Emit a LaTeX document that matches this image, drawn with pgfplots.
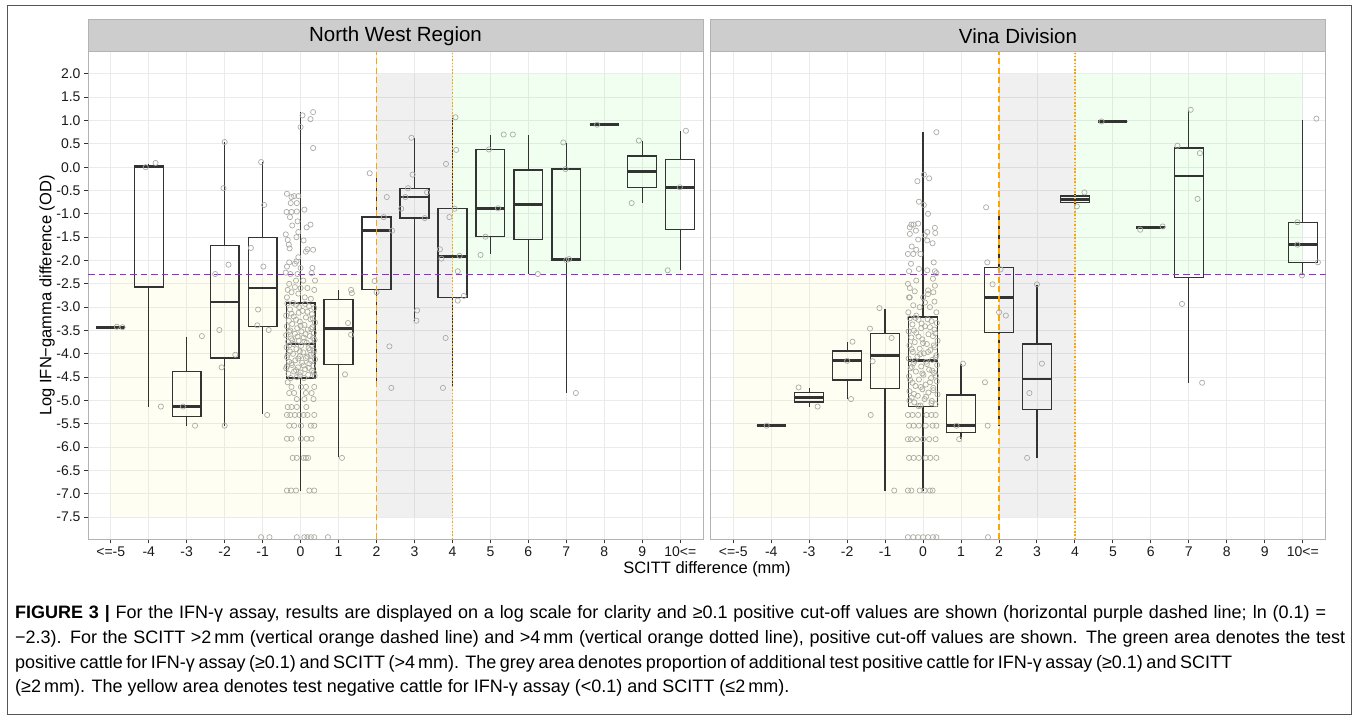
\documentclass[border=0pt]{standalone}
\usepackage{fontspec}
\setmainfont{Liberation Sans}
\usepackage{pgfplots}
\pgfplotsset{compat=1.18}
\usepgfplotslibrary{statistics}

\definecolor{gridc}{HTML}{EBEBEB}
\definecolor{borderc}{HTML}{B3B3B3}
\definecolor{tickc}{HTML}{333333}
\definecolor{tickl}{HTML}{1A1A1A}
\definecolor{stripfill}{HTML}{CDCDCD}
\definecolor{boxline}{HTML}{333333}
\definecolor{ptgray}{HTML}{ABABA5}
\definecolor{ggpurple}{HTML}{A020F0}
\definecolor{ggorange}{HTML}{FFA500}
\definecolor{framec}{HTML}{555555}

\pgfplotsset{
  panel/.style={
    scale only axis, width=615pt, height=487.6pt, anchor=south west,
    xmin=-5.6, xmax=10.6, ymin=-7.975, ymax=2.475,
    xtick={-5,-4,...,10},
    xticklabels={<=-5,-4,-3,-2,-1,0,1,2,3,4,5,6,7,8,9,10<=},
    ytick={-7.5,-7,...,2},
    grid=major, major grid style={draw=gridc, line width=0.9pt},
    axis line style={draw=borderc, line width=1pt},
    tick align=outside, major tick length=4pt,
    xtick pos=left, ytick pos=left,
    tick style={draw=tickc, line width=1pt},
    tick label style={font=\fontsize{14}{16}\selectfont, text=tickl},
  },
  ggbox/.style={draw=boxline, line width=1.3pt, solid, mark=none, fill=none,
    boxplot/draw direction=y,
    boxplot/box extend=0.76, boxplot/whisker extend=0,
    boxplot/every median/.style={line width=2.8pt}},
  ggpts/.style={only marks, mark=o, mark size=2.6pt, color=ptgray,
    mark options={line width=0.7pt}},
  bgyellow/.style={fill=yellow, fill opacity=0.05, draw=none},
  bggrey/.style={fill=black, fill opacity=0.06, draw=none},
  bggreen/.style={fill=green, fill opacity=0.06, draw=none},
  cutoff/.style={ggpurple, line width=1.3pt, dash pattern=on 6.5pt off 4pt},
  scitt2/.style={ggorange, line width=1.3pt, dash pattern=on 6pt off 3.5pt},
  scitt4/.style={ggorange, line width=1.3pt, dash pattern=on 1.5pt off 1.8pt},
}

\begin{document}
\begin{tikzpicture}[x=1pt, y=1pt]
\path[use as bounding box] (0,0) rectangle (1358,720);
\draw[framec, line width=1pt] (7,5) rectangle (1351.5,714);

% ---------------- North West Region ----------------
\begin{axis}[panel, at={(88pt,180.7pt)},
  yticklabels={-7.5,-7.0,-6.5,-6.0,-5.5,-5.0,-4.5,-4.0,-3.5,-3.0,-2.5,-2.0,-1.5,-1.0,-0.5,0.0,0.5,1.0,1.5,2.0}]
\addplot[bgyellow] coordinates {(-5,-7.5) (2,-7.5) (2,-2.3) (-5,-2.3)} -- cycle;
\addplot[bggrey] coordinates {(2,-7.5) (4,-7.5) (4,2) (2,2)} -- cycle;
\addplot[bggreen] coordinates {(4,-2.3) (10,-2.3) (10,2) (4,2)} -- cycle;

\addplot[ggbox, boxplot prepared={draw position=-5, lower whisker=-3.43, lower quartile=-3.43, median=-3.43, upper quartile=-3.43, upper whisker=-3.43}] coordinates {};
\addplot[ggbox, boxplot prepared={draw position=-4, lower whisker=-5.13, lower quartile=-2.57, median=0.01, upper quartile=0.03, upper whisker=0.07}] coordinates {};
\addplot[ggbox, boxplot prepared={draw position=-3, lower whisker=-5.54, lower quartile=-5.34, median=-5.13, upper quartile=-4.38, upper whisker=-3.64}] coordinates {};
\addplot[ggbox, boxplot prepared={draw position=-2, lower whisker=-5.54, lower quartile=-4.09, median=-2.89, upper quartile=-1.68, upper whisker=0.53}] coordinates {};
\addplot[ggbox, boxplot prepared={draw position=-1, lower whisker=-5.30, lower quartile=-3.41, median=-2.59, upper quartile=-1.50, upper whisker=0.11}] coordinates {};
\addplot[ggbox, boxplot prepared={draw position=0, lower whisker=-6.93, lower quartile=-4.52, median=-3.79, upper quartile=-2.91, upper whisker=1.18}] coordinates {};
\addplot[ggbox, boxplot prepared={draw position=1, lower whisker=-6.21, lower quartile=-4.23, median=-3.46, upper quartile=-2.84, upper whisker=-2.63}] coordinates {};
\addplot[ggbox, boxplot prepared={draw position=2, lower whisker=-4.71, lower quartile=-2.62, median=-1.36, upper quartile=-1.07, upper whisker=-0.16}] coordinates {};
\addplot[ggbox, boxplot prepared={draw position=3, lower whisker=-3.29, lower quartile=-1.09, median=-0.64, upper quartile=-0.45, upper whisker=0.63}] coordinates {};
\addplot[ggbox, boxplot prepared={draw position=4, lower whisker=-4.71, lower quartile=-2.79, median=-1.91, upper quartile=-0.88, upper whisker=1.06}] coordinates {};
\addplot[ggbox, boxplot prepared={draw position=5, lower whisker=-1.87, lower quartile=-1.49, median=-0.88, upper quartile=0.38, upper whisker=0.69}] coordinates {};
\addplot[ggbox, boxplot prepared={draw position=6, lower whisker=-2.30, lower quartile=-1.55, median=-0.80, upper quartile=-0.06, upper whisker=0.69}] coordinates {};
\addplot[ggbox, boxplot prepared={draw position=7, lower whisker=-4.84, lower quartile=-2.00, median=-1.98, upper quartile=-0.04, upper whisker=0.51}] coordinates {};
\addplot[ggbox, boxplot prepared={draw position=8, lower whisker=0.91, lower quartile=0.91, median=0.91, upper quartile=0.91, upper whisker=0.91}] coordinates {};
\addplot[ggbox, boxplot prepared={draw position=9, lower whisker=-0.76, lower quartile=-0.43, median=-0.09, upper quartile=0.24, upper whisker=0.57}] coordinates {};
\addplot[ggbox, boxplot prepared={draw position=10, lower whisker=-2.21, lower quartile=-1.33, median=-0.43, upper quartile=0.17, upper whisker=0.77}] coordinates {};

% jittered observations
\addplot[ggpts] coordinates {
(-4.69,-3.43) (-4.84,-3.42)
(-4.08,0.00) (-3.82,0.09) (-3.68,-5.13)
(-3.10,-5.13) (-2.60,-3.62) (-2.78,-5.54)
(-2.00,0.54) (-2.03,-0.45) (-1.90,-2.09) (-2.25,-2.29) (-2.14,-3.49) (-2.08,-4.29) (-1.72,-4.02) (-2.00,-5.54)
(-1.04,0.11) (-0.96,-0.81) (-1.31,-1.73) (-0.98,-2.13) (-1.12,-3.05) (-1.14,-3.39) (-0.84,-3.49) (-0.88,-5.31) (-1.04,-7.93) (-0.82,-7.93)
(0.05,1.11) (0.33,1.18) (0.26,1.03) (0.00,0.86) (0.33,0.41)
(-0.36,-0.57) (-0.24,-0.64) (-0.17,-0.62) (-0.06,-0.62) (-0.26,-0.77) (-0.10,-0.77) (0.10,-0.91) (-0.37,-0.96)
(-0.24,-0.96) (-0.10,-0.95) (-0.28,-1.07) (-0.08,-1.16) (0.26,-1.23) (0.16,-1.29) (-0.22,-1.25) (-0.06,-1.39)
(-0.39,-1.44) (-0.11,-1.50) (0.08,-1.57) (-0.34,-1.56) (-0.31,-1.66) (-0.29,-1.74) (0.18,-1.76) (0.33,-1.77)
(0.14,-1.81) (-0.06,-1.93) (-0.30,-2.04) (-0.11,-2.02) (-0.15,-2.07) (0.31,-2.16) (-0.36,-2.13) (0.00,-2.16)
(-0.39,-2.26) (-0.27,-2.29) (0.29,-2.27) (-0.08,-2.29) (0.07,-2.43) (-0.12,-2.43) (0.38,-2.43) (-0.30,-2.50)
(-0.15,-2.57) (-0.34,-2.63) (0.00,-2.59) (0.18,-2.59) (0.36,-2.63) (-0.24,-2.68) (-0.06,-2.71) (0.11,-2.79)
(-0.36,-2.79) (0.27,-2.82)
(-0.35,-2.92) (-0.12,-2.95) (0.22,-2.98) (0.36,-3.02) (-0.28,-3.05) (0.05,-3.08) (-0.05,-3.12) (0.30,-3.15)
(-0.38,-3.18) (-0.18,-3.20) (0.14,-3.22) (0.26,-3.26) (-0.31,-3.29) (-0.02,-3.31) (0.38,-3.33) (-0.22,-3.36)
(0.10,-3.38) (-0.36,-3.41) (0.31,-3.43) (-0.09,-3.45) (0.19,-3.48) (-0.27,-3.50) (0.02,-3.52) (0.35,-3.55)
(-0.15,-3.57) (-0.38,-3.60) (0.24,-3.62) (0.08,-3.65) (-0.25,-3.67) (0.37,-3.70) (-0.05,-3.72) (-0.33,-3.74)
(0.16,-3.76) (-0.19,-3.79) (0.29,-3.81) (0.01,-3.83) (-0.37,-3.86) (0.21,-3.88) (-0.11,-3.90) (0.36,-3.93)
(-0.28,-3.95) (0.07,-3.97) (-0.20,-4.00) (0.27,-4.02) (-0.02,-4.05) (-0.36,-4.07) (0.14,-4.09) (0.38,-4.12)
(-0.14,-4.14) (-0.30,-4.17) (0.04,-4.19) (0.23,-4.21) (-0.23,-4.24) (0.33,-4.26) (-0.07,-4.29) (-0.38,-4.31)
(0.12,-4.33) (0.30,-4.36) (-0.17,-4.38) (0.00,-4.40) (-0.32,-4.43) (0.20,-4.45) (0.37,-4.47) (-0.10,-4.50)
(-0.26,-4.52) (0.09,-4.52)
(-0.20,-2.91) (0.12,-2.93) (-0.04,-3.00) (0.18,-3.10) (-0.24,-3.14) (0.32,-3.24) (-0.12,-3.27) (0.00,-3.40)
(0.28,-3.47) (-0.30,-3.53) (0.13,-3.58) (-0.08,-3.63) (0.33,-3.66) (-0.22,-3.71) (0.10,-3.74) (-0.30,-3.82)
(0.24,-3.92) (-0.02,-3.95) (0.34,-3.99) (-0.34,-4.02) (0.18,-4.06) (-0.06,-4.10) (0.27,-4.15) (-0.24,-4.20)
(0.08,-4.25) (-0.36,-4.27) (0.22,-4.30) (-0.12,-4.35) (0.35,-4.40) (-0.02,-4.46)
(-0.34,-4.61) (-0.24,-4.71) (0.01,-4.71) (0.14,-4.71) (0.36,-4.71) (-0.30,-4.84) (-0.17,-4.84) (0.14,-4.84)
(0.29,-4.84) (-0.10,-4.97) (0.10,-4.97) (0.34,-4.97) (-0.34,-5.14) (-0.24,-5.14) (-0.10,-5.14) (0.15,-5.14)
(-0.36,-5.31) (-0.27,-5.31) (-0.15,-5.31) (-0.03,-5.31) (0.08,-5.31) (0.18,-5.31) (0.36,-5.31)
(-0.30,-5.54) (-0.17,-5.54) (0.01,-5.54) (0.27,-5.54) (0.36,-5.54)
(-0.36,-5.82) (-0.24,-5.82) (0.01,-5.82) (0.16,-5.82) (0.29,-5.82)
(-0.21,-6.23) (-0.10,-6.23) (0.08,-6.23) (0.14,-6.23) (0.20,-6.23)
(-0.36,-6.93) (-0.25,-6.93) (-0.12,-6.93) (0.23,-6.93) (0.36,-6.93)
(-0.10,-7.93) (0.10,-7.93) (0.18,-7.93) (0.27,-7.93) (0.36,-7.93)
(1.33,-2.63) (1.35,-2.70) (1.25,-3.34) (1.33,-3.59) (1.17,-4.44) (1.09,-6.23) (0.72,-7.93)
(1.82,-0.13) (2.27,-0.64) (2.19,-1.07) (2.41,-1.36) (1.95,-2.44) (2.00,-2.68) (2.34,-3.84) (2.39,-4.73)
(2.92,0.63) (2.95,-0.16) (2.83,-0.45) (2.76,-0.64) (3.33,-0.54) (2.65,-0.89) (3.27,-1.09) (3.07,-3.07) (3.05,-3.29)
(4.08,1.07) (4.10,0.37) (3.83,0.07) (4.06,-0.89) (3.92,-1.07) (3.67,-1.76) (3.71,-1.96) (4.19,-1.90)
(4.14,-2.23) (4.14,-2.86) (4.30,-2.76) (3.82,-3.66) (3.75,-4.73)
(4.96,0.38) (5.35,0.70) (5.20,-0.88) (4.87,-1.49) (4.74,-1.88)
(5.59,0.70) (6.25,-2.29)
(6.92,0.53) (6.98,-0.04) (7.00,-1.99) (7.07,-1.97) (7.25,-4.84)
(7.81,0.91)
(8.91,0.57) (8.72,-0.77)
(10.15,0.78) (9.99,-0.43) (9.67,-2.21)
};

\addplot[cutoff] coordinates {(-5.6,-2.3) (10.6,-2.3)};
\addplot[scitt2] coordinates {(2,-7.975) (2,2.475)};
\addplot[scitt4] coordinates {(4,-7.975) (4,2.475)};
\end{axis}

% ---------------- Vina Division ----------------
\begin{axis}[panel, at={(710.5pt,180.7pt)}, yticklabels={}, ytick style={draw=none}]
\addplot[bgyellow] coordinates {(-5,-7.5) (2,-7.5) (2,-2.3) (-5,-2.3)} -- cycle;
\addplot[bggrey] coordinates {(2,-7.5) (4,-7.5) (4,2) (2,2)} -- cycle;
\addplot[bggreen] coordinates {(4,-2.3) (10,-2.3) (10,2) (4,2)} -- cycle;

\addplot[ggbox, boxplot prepared={draw position=-4, lower whisker=-5.54, lower quartile=-5.54, median=-5.54, upper quartile=-5.54, upper whisker=-5.54}] coordinates {};
\addplot[ggbox, boxplot prepared={draw position=-3, lower whisker=-5.13, lower quartile=-5.03, median=-4.93, upper quartile=-4.83, upper whisker=-4.74}] coordinates {};
\addplot[ggbox, boxplot prepared={draw position=-2, lower whisker=-4.97, lower quartile=-4.56, median=-4.15, upper quartile=-3.94, upper whisker=-3.75}] coordinates {};
\addplot[ggbox, boxplot prepared={draw position=-1, lower whisker=-6.93, lower quartile=-4.74, median=-4.03, upper quartile=-3.56, upper whisker=-3.04}] coordinates {};
\addplot[ggbox, boxplot prepared={draw position=0, lower whisker=-6.93, lower quartile=-5.13, median=-4.15, upper quartile=-3.21, upper whisker=0.75}] coordinates {};
\addplot[ggbox, boxplot prepared={draw position=1, lower whisker=-5.82, lower quartile=-5.69, median=-5.54, upper quartile=-4.88, upper whisker=-4.21}] coordinates {};
\addplot[ggbox, boxplot prepared={draw position=2, lower whisker=-5.54, lower quartile=-3.55, median=-2.80, upper quartile=-2.15, upper whisker=-0.91}] coordinates {};
\addplot[ggbox, boxplot prepared={draw position=3, lower whisker=-6.23, lower quartile=-5.19, median=-4.54, upper quartile=-3.79, upper whisker=-2.52}] coordinates {};
\addplot[ggbox, boxplot prepared={draw position=4, lower whisker=-0.84, lower quartile=-0.76, median=-0.69, upper quartile=-0.62, upper whisker=-0.57}] coordinates {};
\addplot[ggbox, boxplot prepared={draw position=5, lower whisker=0.98, lower quartile=0.98, median=0.98, upper quartile=0.98, upper whisker=0.98}] coordinates {};
\addplot[ggbox, boxplot prepared={draw position=6, lower whisker=-1.30, lower quartile=-1.30, median=-1.30, upper quartile=-1.30, upper whisker=-1.30}] coordinates {};
\addplot[ggbox, boxplot prepared={draw position=7, lower whisker=-4.62, lower quartile=-2.37, median=-0.19, upper quartile=0.41, upper whisker=1.23}] coordinates {};
\addplot[ggbox, boxplot prepared={draw position=10, lower whisker=-2.32, lower quartile=-2.04, median=-1.66, upper quartile=-1.18, upper whisker=1.02}] coordinates {};

\addplot[ggpts] coordinates {
(-4.12,-5.54)
(-3.28,-4.72) (-2.78,-5.13)
(-1.86,-3.74) (-2.00,-4.15) (-1.90,-4.97)
(-1.15,-3.02) (-1.40,-3.46) (-0.83,-3.66) (-1.33,-4.16) (-1.38,-5.31) (-0.76,-6.93)
(0.35,0.75) (0.02,-0.16) (0.16,-0.24) (-0.15,-0.30) (-0.11,-0.74) (0.02,-0.81) (0.13,-1.00) (-0.31,-1.23)
(-0.25,-1.23) (-0.13,-1.21) (-0.35,-1.29) (0.31,-1.30) (0.11,-1.39) (0.32,-1.41) (-0.35,-1.43) (-0.19,-1.36)
(0.04,-1.46) (-0.13,-1.55) (0.11,-1.57) (0.25,-1.63) (-0.30,-1.70) (-0.18,-1.77) (-0.40,-1.86) (-0.26,-1.86)
(-0.07,-1.86) (-0.32,-2.07) (0.28,-2.04) (-0.37,-2.23) (-0.11,-2.18) (0.11,-2.21) (0.31,-2.23) (0.35,-2.27)
(0.26,-2.39) (-0.18,-2.43) (-0.40,-2.50) (-0.35,-2.59) (0.31,-2.54) (0.13,-2.64) (-0.22,-2.66) (-0.37,-2.79)
(0.00,-2.79) (-0.35,-2.79) (0.13,-2.72) (0.27,-2.68) (-0.26,-2.96) (-0.09,-3.00) (0.18,-3.00) (-0.39,-3.11)
(0.35,-3.11) (-0.18,-3.18) (0.05,-2.90) (0.30,-2.88)
(-0.35,-3.24) (-0.12,-3.27) (0.22,-3.30) (0.36,-3.34) (-0.28,-3.37) (0.05,-3.41) (-0.05,-3.45) (0.30,-3.48)
(-0.38,-3.52) (-0.18,-3.55) (0.14,-3.58) (0.26,-3.62) (-0.31,-3.65) (-0.02,-3.69) (0.38,-3.72) (-0.22,-3.75)
(0.10,-3.79) (-0.36,-3.82) (0.31,-3.86) (-0.09,-3.89) (0.19,-3.92) (-0.27,-3.96) (0.02,-3.99) (0.35,-4.03)
(-0.15,-4.06) (-0.38,-4.10) (0.24,-4.13) (0.08,-4.17) (-0.25,-4.20) (0.37,-4.24) (-0.05,-4.27) (-0.33,-4.31)
(0.16,-4.34) (-0.19,-4.38) (0.29,-4.41) (0.01,-4.45) (-0.37,-4.48) (0.21,-4.52) (-0.11,-4.55) (0.36,-4.59)
(-0.28,-4.62) (0.07,-4.66) (-0.20,-4.69) (0.27,-4.73) (-0.02,-4.76) (-0.36,-4.80) (0.14,-4.83) (0.38,-4.87)
(-0.14,-4.90) (-0.30,-4.94) (0.04,-4.97) (0.23,-5.01) (-0.23,-5.04) (0.33,-5.08) (-0.07,-5.11)
(-0.20,-3.23) (0.12,-3.26) (-0.04,-3.35) (0.18,-3.43) (-0.24,-3.50) (0.32,-3.56) (-0.12,-3.63) (0.00,-3.77)
(0.28,-3.82) (-0.30,-3.90) (0.13,-3.96) (-0.08,-4.01) (0.33,-4.08) (-0.22,-4.15) (0.10,-4.22) (-0.30,-4.28)
(0.24,-4.36) (-0.02,-4.42) (0.34,-4.47) (-0.34,-4.56) (0.18,-4.61) (-0.06,-4.71) (0.27,-4.78) (-0.24,-4.86)
(0.08,-4.92) (-0.36,-5.00) (0.22,-5.06) (-0.12,-5.12)
(-0.40,-5.31) (-0.28,-5.31) (-0.13,-5.31) (0.09,-5.31) (0.22,-5.31) (0.33,-5.31)
(-0.37,-5.54) (-0.25,-5.54) (-0.11,-5.54) (0.07,-5.54) (0.25,-5.54) (0.35,-5.54)
(-0.40,-5.83) (-0.32,-5.83) (-0.16,-5.83) (0.00,-5.83) (0.16,-5.83) (0.33,-5.83)
(-0.37,-6.23) (-0.25,-6.23) (-0.11,-6.23) (0.07,-6.23) (0.19,-6.23) (0.35,-6.23)
(-0.40,-6.93) (-0.31,-6.93) (-0.09,-6.93) (0.04,-6.93) (0.18,-6.93) (0.25,-6.93)
(-0.40,-7.93) (-0.26,-7.93) (-0.13,-7.93) (0.00,-7.93) (0.13,-7.93) (0.26,-7.93) (0.35,-7.93)
(1.05,-4.21) (0.88,-5.54) (0.95,-5.83)
(1.66,-0.86) (1.69,-2.04) (2.04,-2.19) (1.83,-2.51) (2.00,-3.11) (2.18,-3.18) (1.63,-4.61) (1.70,-5.54) (1.71,-7.93)
(3.00,-2.51) (3.13,-4.21) (2.80,-4.84) (2.74,-6.23)
(4.25,-0.54) (4.05,-0.84)
(4.70,0.98)
(5.72,-1.34) (6.31,-1.27)
(7.05,1.23) (6.70,0.46) (7.29,0.30) (7.23,-0.68) (6.82,-2.93) (7.35,-4.62)
(10.36,1.04) (9.86,-1.18) (9.86,-1.66) (10.40,-2.04) (9.98,-2.32)
};

\addplot[cutoff] coordinates {(-5.6,-2.3) (10.6,-2.3)};
\addplot[scitt2] coordinates {(2,-7.975) (2,2.475)};
\addplot[scitt4] coordinates {(4,-7.975) (4,2.475)};
\end{axis}

% facet strips
\draw[fill=stripfill, draw=borderc, line width=1pt] (88,668.3) rectangle (703,700);
\draw[fill=stripfill, draw=borderc, line width=1pt] (710.5,668.3) rectangle (1325.5,700);
\node[font=\fontsize{20.5}{24}\selectfont] at (395.5,684) {North West Region};
\node[font=\fontsize{20.5}{24}\selectfont] at (1018,684) {Vina Division};

% axis titles
\node[font=\fontsize{16.5}{19}\selectfont] at (707,151) {SCITT difference (mm)};
\node[font=\fontsize{16.5}{19}\selectfont, rotate=90] at (47,424.5) {Log IFN−gamma difference (OD)};

% caption
\begin{scope}[every node/.style={anchor=base west, inner sep=0pt, font=\fontsize{18}{21}\selectfont}]
\node at (15,101) {\makebox[1311pt][s]{\textbf{FIGURE 3 |} For the IFN-γ assay, results are displayed on a log scale for clarity and ≥0.1 positive cut-off values are shown (horizontal purple dashed line; ln (0.1) =}};
\node at (15,76) {\makebox[1330pt][s]{−2.3). For the SCITT >2\,mm (vertical orange dashed line) and >4\,mm (vertical orange dotted line), positive cut-off values are shown. The green area denotes the test}};
\node at (15,51.5) {\makebox[1217pt][s]{positive cattle for IFN-γ assay (≥0.1) and SCITT (>4\,mm). The grey area denotes proportion of additional test positive cattle for IFN-γ assay (≥0.1) and SCITT}};
\node at (15,27) {(≥2\,mm). The yellow area denotes test negative cattle for IFN-γ assay (<0.1) and SCITT (≤2\,mm).};
\end{scope}
\end{tikzpicture}
\end{document}
